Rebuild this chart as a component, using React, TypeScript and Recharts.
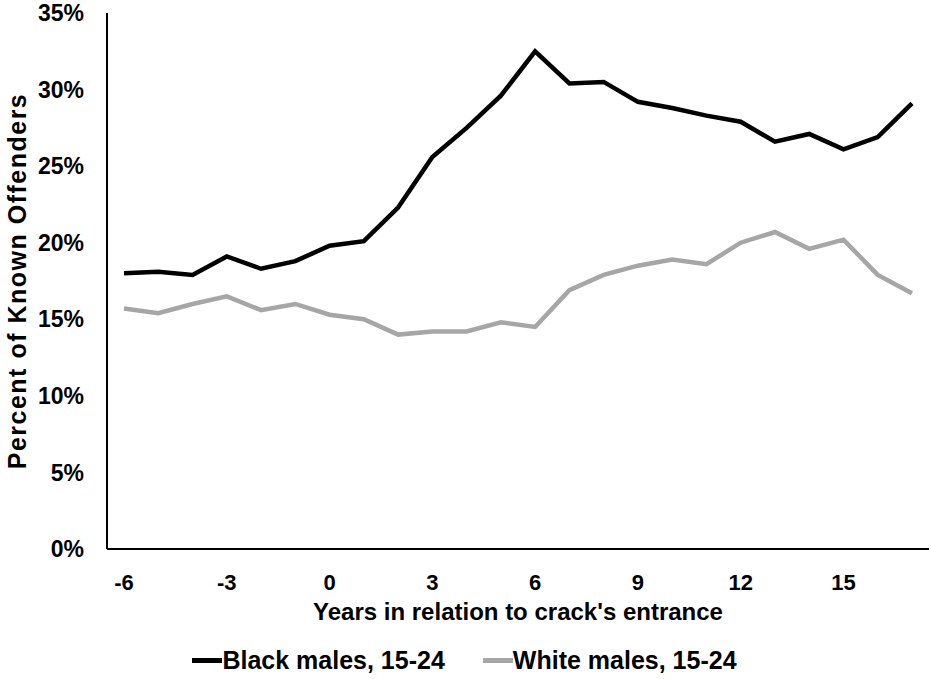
import React from "react";
import { LineChart, Line, XAxis, YAxis, Legend, Label } from "recharts";

// years relative to crack's arrival
const years = [-6, -5, -4, -3, -2, -1, 0, 1, 2, 3, 4, 5, 6, 7, 8, 9, 10, 11, 12, 13, 14, 15, 16, 17];

// percent of known offenders
const blackMales = [18.0, 18.1, 17.9, 19.1, 18.3, 18.8, 19.8, 20.1, 22.3, 25.6, 27.5, 29.6, 32.5, 30.4, 30.5, 29.2, 28.8, 28.3, 27.9, 26.6, 27.1, 26.1, 26.9, 29.1];
const whiteMales = [15.7, 15.4, 16.0, 16.5, 15.6, 16.0, 15.3, 15.0, 14.0, 14.2, 14.2, 14.8, 14.5, 16.9, 17.9, 18.5, 18.9, 18.6, 20.0, 20.7, 19.6, 20.2, 17.9, 16.7];

const yTicks = [0, 5, 10, 15, 20, 25, 30, 35];

const seriesNames = ["Black males, 15-24", "White males, 15-24"];
const seriesColors = ["#000000", "#A6A6A6"];

const FONT = "'Liberation Sans', Arial, sans-serif";

const chartData = years.map((year, i) => ({
  year,
  black: blackMales[i],
  white: whiteMales[i],
}));

function renderLegend() {
  return (
    <div
      style={{
        height: 50,
        boxSizing: "border-box",
        paddingTop: 12,
        display: "flex",
        justifyContent: "center",
        alignItems: "center",
        fontFamily: FONT,
        fontWeight: "bold",
        fontSize: 25,
        color: "#000",
      }}
    >
      {seriesNames.map((name, i) => (
        <div key={name} style={{ display: "flex", alignItems: "center", marginRight: i === 0 ? 38 : 0 }}>
          <div style={{ width: 30, height: 5, background: seriesColors[i] }} />
          <span>{name}</span>
        </div>
      ))}
    </div>
  );
}

function renderYLabel(props: any) {
  const vb = props.viewBox || {};
  const cx = 17;
  const cy = vb.y + vb.height / 2;
  return (
    <text
      x={cx}
      y={cy}
      transform={`rotate(-90, ${cx}, ${cy})`}
      textAnchor="middle"
      dominantBaseline="central"
      fontFamily={FONT}
      fontWeight="bold"
      fontSize={25}
      letterSpacing={1.5}
      fill="#000"
    >
      Percent of Known Offenders
    </text>
  );
}

export default function App() {
  return (
    <div style={{ position: "fixed", left: 0, top: 0, background: "#fff" }}>
      <LineChart
        width={931}
        height={679}
        data={chartData}
        margin={{ top: 13, right: 2, left: 0, bottom: 0 }}
      >
        <XAxis
          dataKey="year"
          interval={2}
          padding={{ left: 17, right: 17 }}
          height={80}
          tickSize={0}
          tickLine={false}
          tickMargin={25}
          axisLine={{ stroke: "#000", strokeWidth: 2 }}
          tick={{ fontSize: 22, fontWeight: "bold", fill: "#000", fontFamily: FONT }}
        >
          <Label
            value="Years in relation to crack's entrance"
            position="insideBottom"
            offset={9}
            style={{ fontSize: 24, fontWeight: "bold", fill: "#000", fontFamily: FONT }}
          />
        </XAxis>
        <YAxis
          width={107}
          domain={[0, 35]}
          ticks={yTicks}
          tickFormatter={(v: number) => `${v}%`}
          tickSize={0}
          tickLine={false}
          tickMargin={23}
          axisLine={{ stroke: "#000", strokeWidth: 2 }}
          tick={{ fontSize: 23, fontWeight: "bold", fill: "#000", fontFamily: FONT }}
        >
          <Label content={renderYLabel} />
        </YAxis>
        <Legend verticalAlign="bottom" content={renderLegend} />
        <Line
          type="linear"
          dataKey="black"
          name={seriesNames[0]}
          stroke={seriesColors[0]}
          strokeWidth={4.5}
          dot={false}
          isAnimationActive={false}
        />
        <Line
          type="linear"
          dataKey="white"
          name={seriesNames[1]}
          stroke={seriesColors[1]}
          strokeWidth={4.5}
          dot={false}
          isAnimationActive={false}
        />
      </LineChart>
    </div>
  );
}
